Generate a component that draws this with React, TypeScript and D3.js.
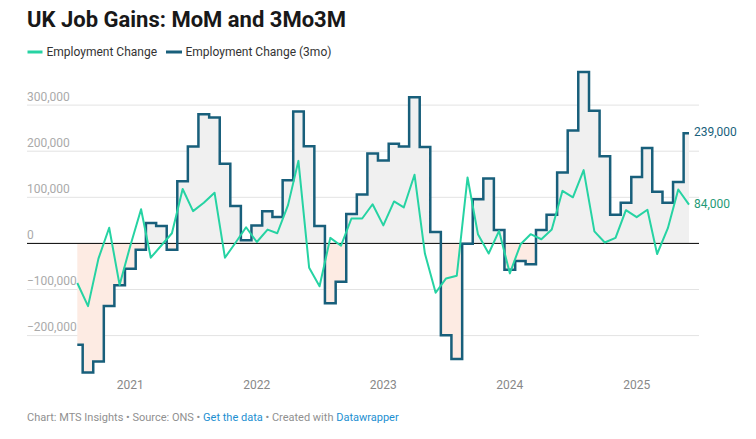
import * as d3 from "d3";

// monthly, Aug 2020 .. Jun 2025
const startMonth = new Date(2020, 7, 1);
const employmentChange = [
  -86000, -136000, -33000, 34000, -90000, -5000, 74000, -31000, -4000, 22000,
  118000, 70000, 88000, 110000, -31000, 2000, 35000, 3000, 30000, 22000,
  83000, 179000, -53000, -93000, 12000, -5000, 54000, 54000, 85000, 39000,
  91000, 78000, 149000, -22000, -107000, -76000, -70000, 143000, 20000, -22000,
  27000, -65000, -2000, 20000, 9000, 30000, 114000, 100000, 159000, 26000,
  2000, 12000, 72000, 57000, 73000, -23000, 33000, 117000, 84000,
];
const employmentChange3mo = [
  -220000, -280000, -256000, -136000, -91000, -55000, -14000, 44000, 38000, -14000,
  135000, 210000, 280000, 273000, 173000, 81000, 7000, 39000, 70000, 57000,
  137000, 286000, 211000, 38000, -130000, -83000, 64000, 106000, 195000, 180000,
  216000, 210000, 317000, 209000, 25000, -199000, -251000, -1000, 96000, 141000,
  29000, -57000, -38000, -45000, 29000, 62000, 154000, 245000, 372000, 288000,
  189000, 62000, 88000, 144000, 207000, 112000, 88000, 133000, 239000,
];
const yTicks = [-200000, -100000, 0, 100000, 200000, 300000];
const seriesNames = ["Employment Change", "Employment Change (3mo)"];

const W = 756;
const H = 439;
const GREEN = "#26d3a3";
const DARK = "#185f7b";
const FONT = "Roboto, 'Noto Sans', sans-serif";

type Pt = { date: Date; value: number };

export default function App() {
  const dates = employmentChange.map((_, i) => d3.timeMonth.offset(startMonth, i));
  const mom: Pt[] = dates.map((date, i) => ({ date, value: employmentChange[i] }));
  const m3: Pt[] = dates.map((date, i) => ({ date, value: employmentChange3mo[i] }));

  const x = d3
    .scaleTime()
    .domain([dates[0], dates[dates.length - 1]])
    .range([77.3, 689]);
  const y = d3.scaleLinear().domain([-200000, 300000]).range([335.6, 105.1]);

  const gridLeft = 27;
  const gridRight = 699;

  const line = d3
    .line<Pt>()
    .x((d) => x(d.date))
    .y((d) => y(d.value));
  const stepLine = d3
    .line<Pt>()
    .x((d) => x(d.date))
    .y((d) => y(d.value))
    .curve(d3.curveStep);
  const stepArea = d3
    .area<Pt>()
    .x((d) => x(d.date))
    .y0(y(0))
    .y1((d) => y(d.value))
    .curve(d3.curveStep);

  const y0 = y(0);
  const years = x.ticks(d3.timeYear);
  const last = m3.length - 1;

  return (
    <div style={{ position: "absolute", left: 0, top: 0 }}>
      <svg width={W} height={H} style={{ display: "block", background: "#fff" }} fontFamily={FONT}>
        <defs>
          <clipPath id="above">
            <rect x={0} y={0} width={W} height={y0} />
          </clipPath>
          <clipPath id="below">
            <rect x={0} y={y0} width={W} height={H - y0} />
          </clipPath>
        </defs>

        <text x={27} y={27} fontSize={22} fontWeight={700} fill="#181818">
          UK Job Gains: MoM and 3Mo3M
        </text>

        {/* legend */}
        <g fontSize={12} fill="#333">
          <line x1={27.5} x2={42.5} y1={52} y2={52} stroke={GREEN} strokeWidth={3} />
          <text x={46.5} y={56.3}>{seriesNames[0]}</text>
          <line x1={166} x2={182} y1={52} y2={52} stroke={DARK} strokeWidth={3} />
          <text x={185.5} y={56.3}>{seriesNames[1]}</text>
        </g>

        {/* grid */}
        {yTicks.map((t) => (
          <g key={t}>
            {t !== 0 && (
              <line x1={gridLeft} x2={gridRight} y1={y(t)} y2={y(t)} stroke="#e3e3e3" strokeWidth={1} />
            )}
            <text x={gridLeft} y={y(t) - 4.5} fontSize={12} fill="#aaaaaa">
              {t < 0 ? "\u2212" + d3.format(",")(-t) : d3.format(",")(t)}
            </text>
          </g>
        ))}

        {/* area fills */}
        <path d={stepArea(m3) ?? ""} fill="#f0f0f0" clipPath="url(#above)" />
        <path d={stepArea(m3) ?? ""} fill="#fdebe3" clipPath="url(#below)" />

        <line x1={gridLeft} x2={gridRight} y1={y0} y2={y0} stroke="#000" strokeWidth={1} />

        <path d={stepLine(m3) ?? ""} fill="none" stroke={DARK} strokeWidth={2.5} />
        <path d={line(mom) ?? ""} fill="none" stroke={GREEN} strokeWidth={2} strokeLinejoin="round" />

        {/* end labels */}
        <text x={694} y={y(m3[last].value)} dominantBaseline="middle" fontSize={12} fill={DARK}>
          {d3.format(",")(m3[last].value)}
        </text>
        <text x={694} y={y(mom[last].value)} dominantBaseline="middle" fontSize={12} fill="#1f9a76">
          {d3.format(",")(mom[last].value)}
        </text>

        {/* x axis labels */}
        {years.map((d) => (
          <text key={d.getFullYear()} x={x(d)} y={388.5} textAnchor="middle" fontSize={12} fill="#888">
            {d.getFullYear()}
          </text>
        ))}

        {/* footer */}
        <text x={27} y={421} fontSize={11} fill="#909090">
          Chart: MTS Insights • Source: ONS •{" "}
          <tspan fill="#1d8fd1">Get the data</tspan> • Created with{" "}
          <tspan fill="#1d8fd1">Datawrapper</tspan>
        </text>
      </svg>
    </div>
  );
}
